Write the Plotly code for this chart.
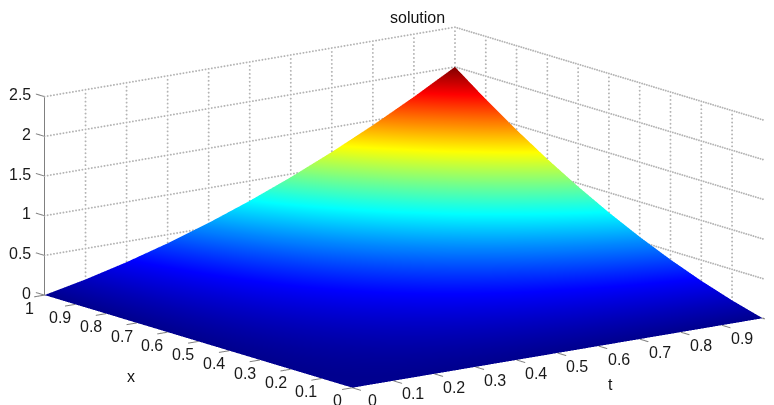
import plotly.graph_objects as go

x_vals = [0, 0.1, 0.2, 0.3, 0.4, 0.5, 0.6, 0.7, 0.8, 0.9, 1]
t_vals = [0, 0.1, 0.2, 0.3, 0.4, 0.5, 0.6, 0.7, 0.8, 0.9, 1]
u_vals = [
    [0, 0, 0, 0, 0, 0, 0, 0, 0, 0, 0],
    [0, .0101, .0204, .0309, .0416, .0525, .0636, .0749, .0864, .0981, .11],
    [0, .0204, .0416, .0636, .0864, .11, .1344, .1596, .1856, .2124, .24],
    [0, .0309, .0636, .0981, .1344, .1725, .2124, .2541, .2976, .3429, .39],
    [0, .0416, .0864, .1344, .1856, .24, .2976, .3584, .4224, .4896, .56],
    [0, .0525, .11, .1725, .24, .3125, .39, .4725, .56, .6525, .75],
    [0, .0636, .1344, .2124, .2976, .39, .4896, .5964, .7104, .8316, .96],
    [0, .0749, .1596, .2541, .3584, .4725, .5964, .7301, .8736, 1.0269, 1.19],
    [0, .0864, .1856, .2976, .4224, .56, .7104, .8736, 1.0496, 1.2384, 1.44],
    [0, .0981, .2124, .3429, .4896, .6525, .8316, 1.0269, 1.2384, 1.4661, 1.71],
    [0, .11, .24, .39, .56, .75, .96, 1.19, 1.44, 1.71, 2.0],
]
x_ticks = [0, 0.1, 0.2, 0.3, 0.4, 0.5, 0.6, 0.7, 0.8, 0.9, 1]
t_ticks = [0, 0.1, 0.2, 0.3, 0.4, 0.5, 0.6, 0.7, 0.8, 0.9, 1]
t_labelled = [0, 0.1, 0.2, 0.3, 0.4, 0.5, 0.6, 0.7, 0.8, 0.9]
z_ticks = [0, 0.5, 1, 1.5, 2, 2.5]
z_labels = ["0", "0.5", "1", "1.5", "2", "2.5"]

jet = [[0, "rgb(0,0,143)"], [0.125, "rgb(0,0,255)"], [0.375, "rgb(0,255,255)"],
       [0.625, "rgb(255,255,0)"], [0.875, "rgb(255,0,0)"], [1, "rgb(128,0,0)"]]

grid_x, grid_y, grid_z = [], [], []
def dots(a, b, n):
    for k in range(n + 1):
        f = k / n
        grid_x.append(a[0] + (b[0] - a[0]) * f)
        grid_y.append(a[1] + (b[1] - a[1]) * f)
        grid_z.append(a[2] + (b[2] - a[2]) * f)
for z in z_ticks:
    dots((0, 1, z), (1, 1, z), 130)
    dots((1, 0, z), (1, 1, z), 130)
for t in t_ticks[1:]:
    dots((t, 1, 0), (t, 1, 2.5), 50)
for x in x_ticks[1:]:
    dots((1, x, 0), (1, x, 2.5), 50)

tick_x, tick_y, tick_z = [], [], []
def seg(a, b):
    tick_x.extend([a[0], b[0], None]); tick_y.extend([a[1], b[1], None]); tick_z.extend([a[2], b[2], None])
seg((0, 1, 0), (0, 1, 2.5))
for v in x_ticks:
    seg((0, v, 0), (-0.025, v, 0))
for v in t_ticks:
    seg((v, 0, 0), (v, -0.028, 0))
for v in z_ticks:
    seg((0, 1, v), (0, 1.028, v))

fig = go.Figure()
fig.add_trace(go.Scatter3d(x=grid_x, y=grid_y, z=grid_z, mode="markers",
                           marker=dict(color="#b4b4b4", size=1.1, line=dict(width=0)),
                           hoverinfo="skip", showlegend=False))
fig.add_trace(go.Scatter3d(x=tick_x, y=tick_y, z=tick_z, mode="lines",
                           line=dict(color="#808080", width=2),
                           hoverinfo="skip", showlegend=False))
fig.add_trace(go.Surface(x=t_vals, y=x_vals, z=u_vals, colorscale=jet, cmin=0, cmax=2,
                         showscale=False, hoverinfo="skip",
                         lighting=dict(ambient=1, diffuse=0, specular=0, roughness=1, fresnel=0)))

def axis(rng):
    return dict(range=list(rng), showticklabels=False, ticks="", showgrid=False, zeroline=False,
                showbackground=False, showline=False, showspikes=False, title=dict(text=""))

label_font = dict(family="Liberation Sans", size=16, color="#1a1a1a")
scene_notes = []
for v in x_ticks:
    scene_notes.append(dict(x=0, y=v, z=0, text=str(v), showarrow=False, xshift=-15, yshift=-13, font=label_font))
for v in t_labelled:
    scene_notes.append(dict(x=v, y=0, z=0, text=str(v), showarrow=False, xshift=20, yshift=-13, font=label_font))
for v, lab in zip(z_ticks, z_labels):
    scene_notes.append(dict(x=0, y=1, z=v, text=lab, showarrow=False, xanchor="right", xshift=-11, yshift=2, font=label_font))

S = 2.585
fig.update_layout(
    width=774, height=405, margin=dict(l=0, r=0, t=0, b=0), paper_bgcolor="white",
    scene=dict(
        domain=dict(x=[0.028, 0.978], y=[0.0145, 0.9945]),
        xaxis=axis((-0.03, 1)), yaxis=axis((-0.03, 1.03)), zaxis=axis((0, 2.5)),
        aspectmode="manual", aspectratio=dict(x=S * 1.03, y=S * 1.06, z=S * 0.397),
        annotations=scene_notes,
        camera=dict(projection=dict(type="orthographic"), up=dict(x=0, y=0, z=1),
                    center=dict(x=0, y=0, z=0),
                    eye=dict(x=-0.6 * 0.974 * 6, y=-0.8 * 0.974 * 6, z=0.2257 * 6)),
    ),
    annotations=[
        dict(text="solution", x=409 / 774, y=1 - 9 / 405, xref="paper", yref="paper", showarrow=False,
             xanchor="center", yanchor="middle", font=dict(family="Liberation Sans", size=16, color="#111")),
        dict(text="x", x=123 / 774, y=1 - 368 / 405, xref="paper", yref="paper", showarrow=False,
             xanchor="center", yanchor="middle", font=dict(family="Liberation Sans", size=16, color="#111")),
        dict(text="t", x=602 / 774, y=1 - 376 / 405, xref="paper", yref="paper", showarrow=False,
             xanchor="center", yanchor="middle", font=dict(family="Liberation Sans", size=16, color="#111")),
    ],
)
fig.write_html("out.html")
